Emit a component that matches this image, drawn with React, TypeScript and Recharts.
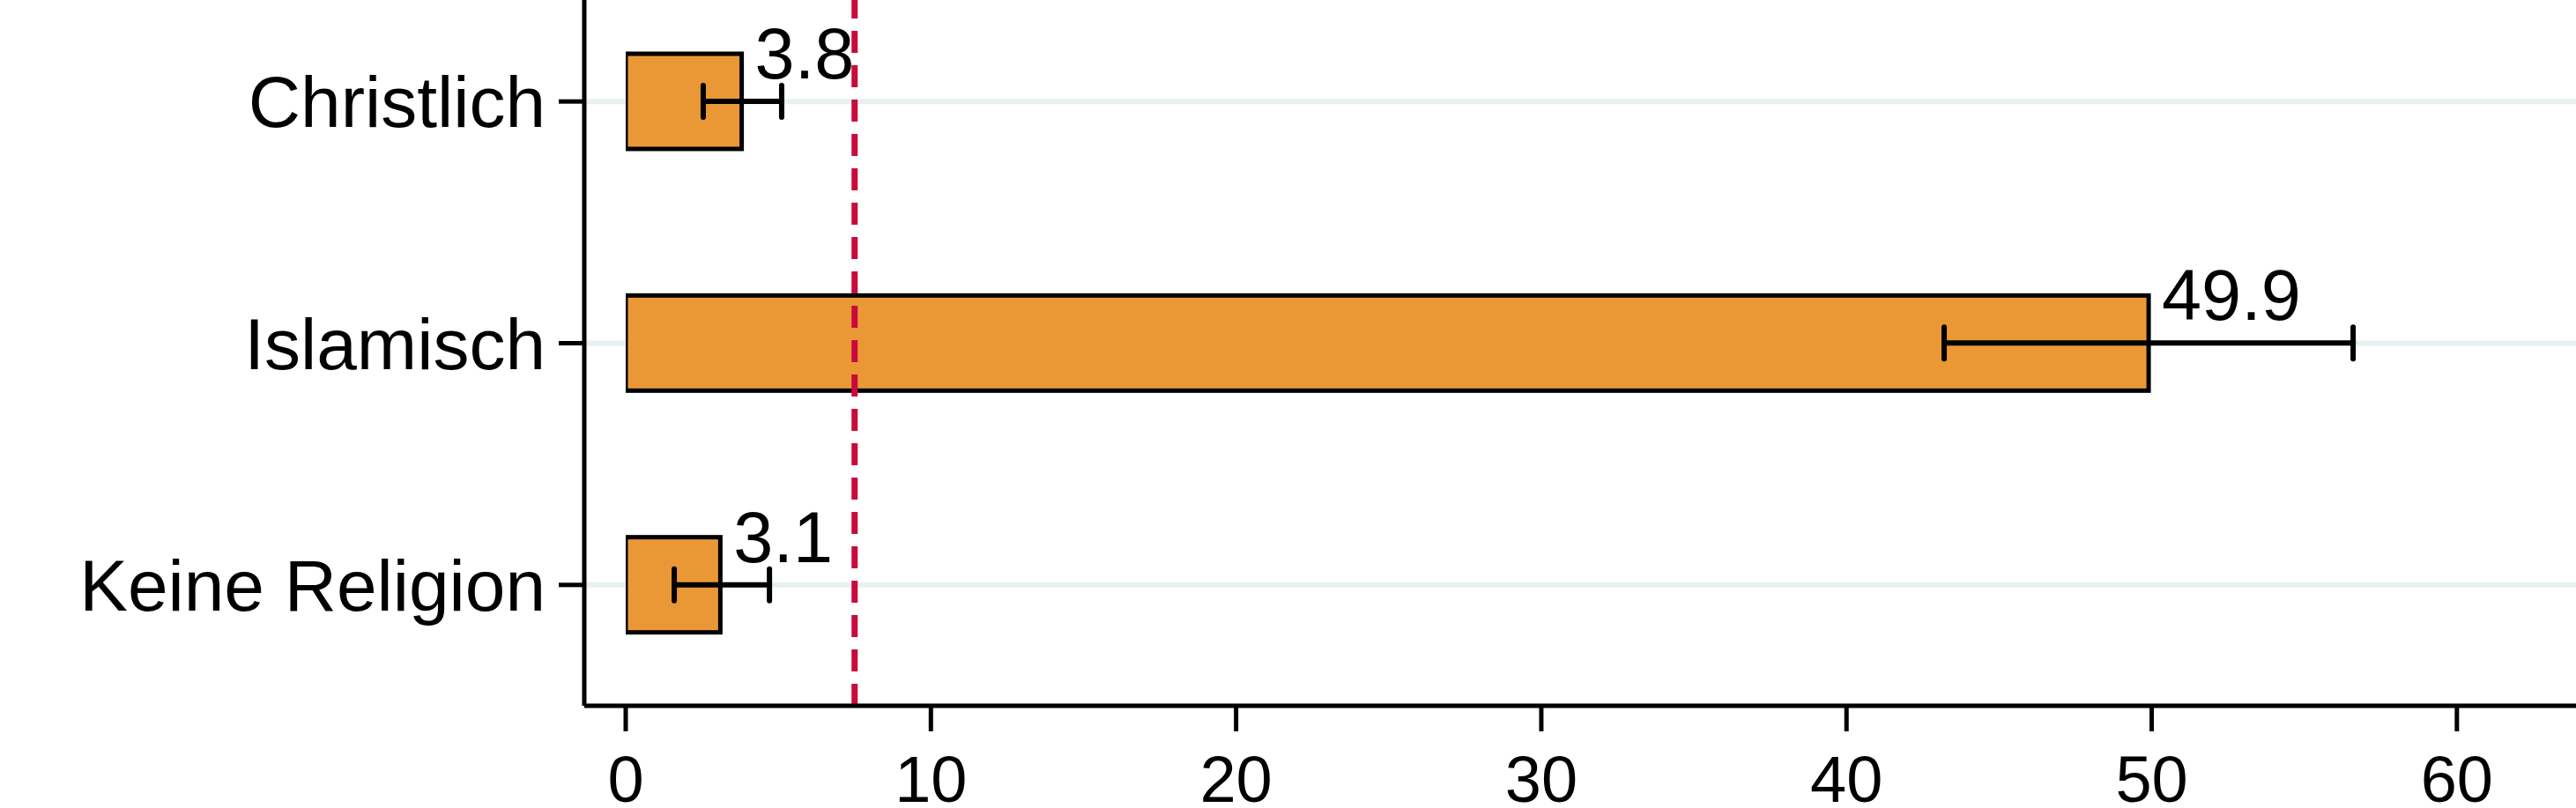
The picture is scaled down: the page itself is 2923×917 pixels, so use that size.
import { Bar, BarChart, CartesianGrid, ErrorBar, LabelList, ReferenceLine, XAxis, YAxis } from 'recharts'

const categories = ['Christlich', 'Islamisch', 'Keine Religion']
const values = [3.8, 49.9, 3.1]
// distance from the value down to the lower CI end, and up to the upper CI end
const errBelow = [1.26, 6.7, 1.51]
const errAbove = [1.31, 6.7, 1.61]
const xTicks = [0, 10, 20, 30, 40, 50, 60]
const referenceValue = 7.5

const FONT = '"Liberation Sans", Arial, Helvetica, sans-serif'

const data = categories.map((name, i) => ({
  name,
  value: values[i],
  err: [errBelow[i], errAbove[i]],
}))

function ValueLabel(props: any) {
  const { x, y, width, height, value } = props
  return (
    <text
      x={Number(x) + Number(width) + 15}
      y={Number(y) + Number(height) / 2 - 26}
      fontSize={81}
      fontFamily={FONT}
      fill="#000"
      textAnchor="start"
    >
      {Number(value).toFixed(1)}
    </text>
  )
}

function BarShape(props: any) {
  const { x, y, width, height } = props
  return <rect x={x} y={y} width={width} height={height} fill="#ea9836" stroke="#000" strokeWidth={5} />
}

const yAxisLine = { stroke: '#000', strokeWidth: 5 }
const xAxisLine = { stroke: '#000', strokeWidth: 5 }

export default function App() {
  return (
    <div style={{ position: 'absolute', left: 0, top: 0, width: 2923, height: 917, overflow: 'hidden', background: '#fff' }}>
      <div style={{ marginTop: -22 }}>
        <BarChart
          width={2985}
          height={953}
          data={data}
          layout="vertical"
          margin={{ top: 0, right: 24, bottom: 0, left: 0 }}
          barCategoryGap={0}
        >
          <CartesianGrid horizontal vertical={false} stroke="#e8f0f2" strokeWidth={6} />
          <XAxis
            type="number"
            domain={[0, 65]}
            ticks={xTicks}
            allowDataOverflow
            padding={{ left: 47, right: 0 }}
            height={130}
            tickSize={29}
            tickMargin={27}
            axisLine={xAxisLine}
            tickLine={xAxisLine}
            tick={{ fontSize: 74, fill: '#000', fontFamily: FONT }}
          />
          <YAxis
            type="category"
            dataKey="name"
            width={663}
            tickSize={29}
            tickMargin={15}
            axisLine={yAxisLine}
            tickLine={yAxisLine}
            tick={{ fontSize: 82, fill: '#000', fontFamily: FONT }}
          />
          <ReferenceLine x={referenceValue} stroke="#c90a3d" strokeWidth={7} strokeDasharray="25 14" />
          <Bar dataKey="value" barSize={108} shape={BarShape} isAnimationActive={false}>
            <ErrorBar
              dataKey="err"
              direction="x"
              width={18}
              stroke="#000"
              strokeWidth={6}
              strokeLinecap="round"
              isAnimationActive={false}
            />
            <LabelList dataKey="value" content={ValueLabel} />
          </Bar>
        </BarChart>
      </div>
    </div>
  )
}
